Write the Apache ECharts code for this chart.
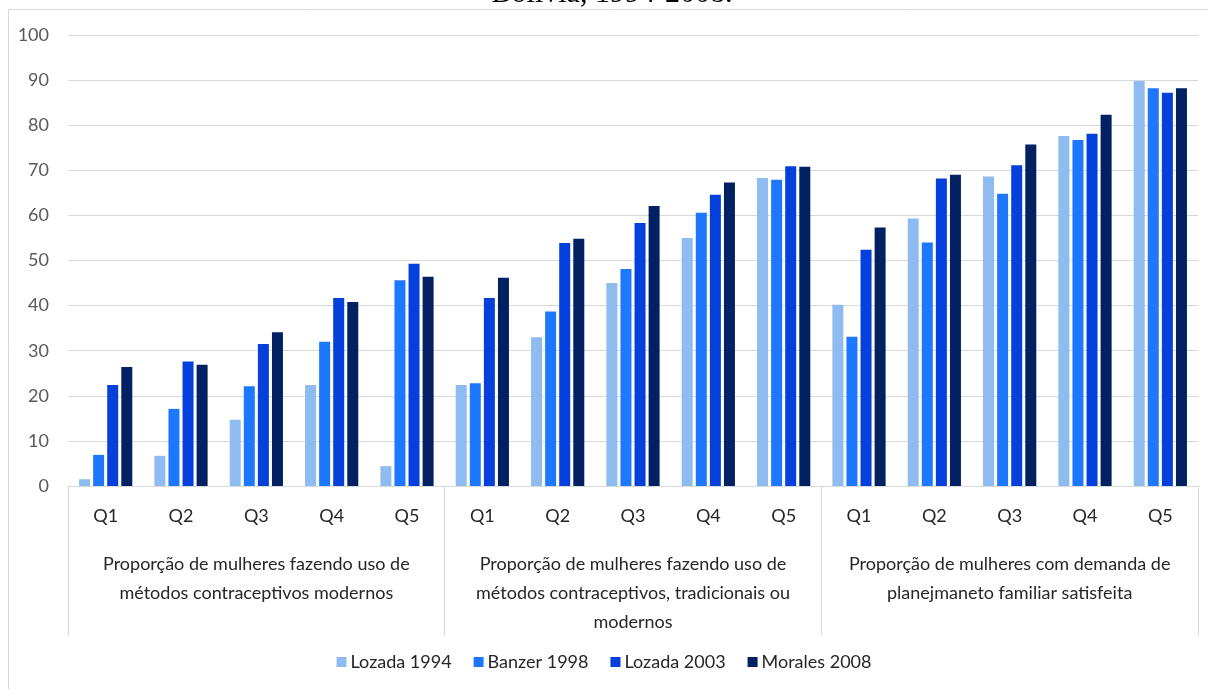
<!DOCTYPE html>
<html>
<head>
<meta charset="utf-8">
<title>Bolivia, 1994-2008</title>
<script src="https://cdn.jsdelivr.net/npm/echarts@6/dist/echarts.min.js"></script>
<style>
  html, body { margin: 0; padding: 0; background: #ffffff; }
  #chart { width: 1208px; height: 689px; }
</style>
</head>
<body>
<div id="chart"></div>
<script>
// Wealth quintiles, repeated for each indicator group
const quintiles = ['Q1', 'Q2', 'Q3', 'Q4', 'Q5',
                   'Q1', 'Q2', 'Q3', 'Q4', 'Q5',
                   'Q1', 'Q2', 'Q3', 'Q4', 'Q5'];

// Indicator groups (second level of the category axis)
const groups = [
  'Proporção de mulheres fazendo uso de\nmétodos contraceptivos modernos',
  'Proporção de mulheres fazendo uso de\nmétodos contraceptivos, tradicionais ou\nmodernos',
  'Proporção de mulheres com demanda de\nplanejmaneto familiar satisfeita'
];

const seriesNames = ['Lozada 1994', 'Banzer 1998', 'Lozada 2003', 'Morales 2008'];

const lozada1994 = [1.5, 6.7, 14.7, 22.4, 4.4,
                    22.4, 33.0, 45.0, 55.0, 68.3,
                    40.2, 59.3, 68.6, 77.6, 89.8];
const banzer1998 = [6.9, 17.1, 22.1, 32.0, 45.6,
                    22.8, 38.7, 48.1, 60.6, 67.9,
                    33.1, 54.0, 64.8, 76.7, 88.2];
const lozada2003 = [22.4, 27.6, 31.5, 41.7, 49.3,
                    41.7, 53.9, 58.3, 64.6, 70.9,
                    52.4, 68.2, 71.1, 78.1, 87.2];
const morales2008 = [26.4, 26.9, 34.1, 40.8, 46.4,
                     46.2, 54.8, 62.1, 67.3, 70.8,
                     57.3, 69.0, 75.7, 82.3, 88.2];

const yTicks = [0, 10, 20, 30, 40, 50, 60, 70, 80, 90, 100];

const palette = ['#8FBCF0', '#1E78FF', '#0540DC', '#022163'];
const FONT = 'Lato, "Liberation Sans", Arial, sans-serif';

const chart = echarts.init(document.getElementById('chart'), null, { renderer: 'canvas' });

const valueSets = [lozada1994, banzer1998, lozada2003, morales2008];

chart.setOption({
  animation: false,
  color: palette,
  textStyle: { fontFamily: FONT },
  graphic: [
    {
      type: 'rect',
      silent: true,
      shape: { x: 8.5, y: 9.5, width: 1220, height: 720 },
      style: { fill: 'none', stroke: '#D9D9D9', lineWidth: 1 }
    },
    {
      type: 'text',
      silent: true,
      x: 612,
      y: -6,
      style: {
        text: 'Bolivia, 1994-2008.',
        font: '30px "Liberation Serif", "DejaVu Serif", serif',
        fill: '#000000',
        align: 'center',
        verticalAlign: 'middle'
      }
    }
  ],
  legend: {
    data: seriesNames,
    bottom: 13,
    left: 'center',
    icon: 'rect',
    itemWidth: 10,
    itemHeight: 10,
    itemGap: 22,
    textStyle: { fontFamily: FONT, fontSize: 18, color: '#262626', padding: [0, 0, 0, -1] }
  },
  grid: { left: 68, right: 10, top: 35, bottom: 203, containLabel: false },
  xAxis: [
    {
      type: 'category',
      data: quintiles,
      position: 'bottom',
      axisLine: { show: true, lineStyle: { color: '#D9D9D9', width: 1 } },
      axisTick: { show: false },
      axisLabel: { fontFamily: FONT, fontSize: 18, color: '#262626', margin: 21, interval: 0 }
    },
    {
      type: 'category',
      data: groups,
      position: 'bottom',
      axisLine: { show: false },
      axisTick: { show: true, length: 149, lineStyle: { color: '#D9D9D9', width: 1 } },
      axisLabel: {
        fontFamily: FONT, fontSize: 18, color: '#262626',
        margin: 64, lineHeight: 29, interval: 0, align: 'center'
      }
    }
  ],
  yAxis: {
    type: 'value',
    min: yTicks[0],
    max: yTicks[yTicks.length - 1],
    interval: 10,
    axisLine: { show: false },
    axisTick: { show: false },
    splitLine: { lineStyle: { color: '#D9D9D9', width: 1 } },
    axisLabel: { fontFamily: FONT, fontSize: 18, color: '#595959', margin: 19 }
  },
  series: seriesNames.map((name, i) => ({
    name: name,
    type: 'bar',
    xAxisIndex: 0,
    data: valueSets[i],
    barWidth: 11,
    barGap: '28%',
    itemStyle: { color: palette[i] }
  }))
});
</script>
</body>
</html>
